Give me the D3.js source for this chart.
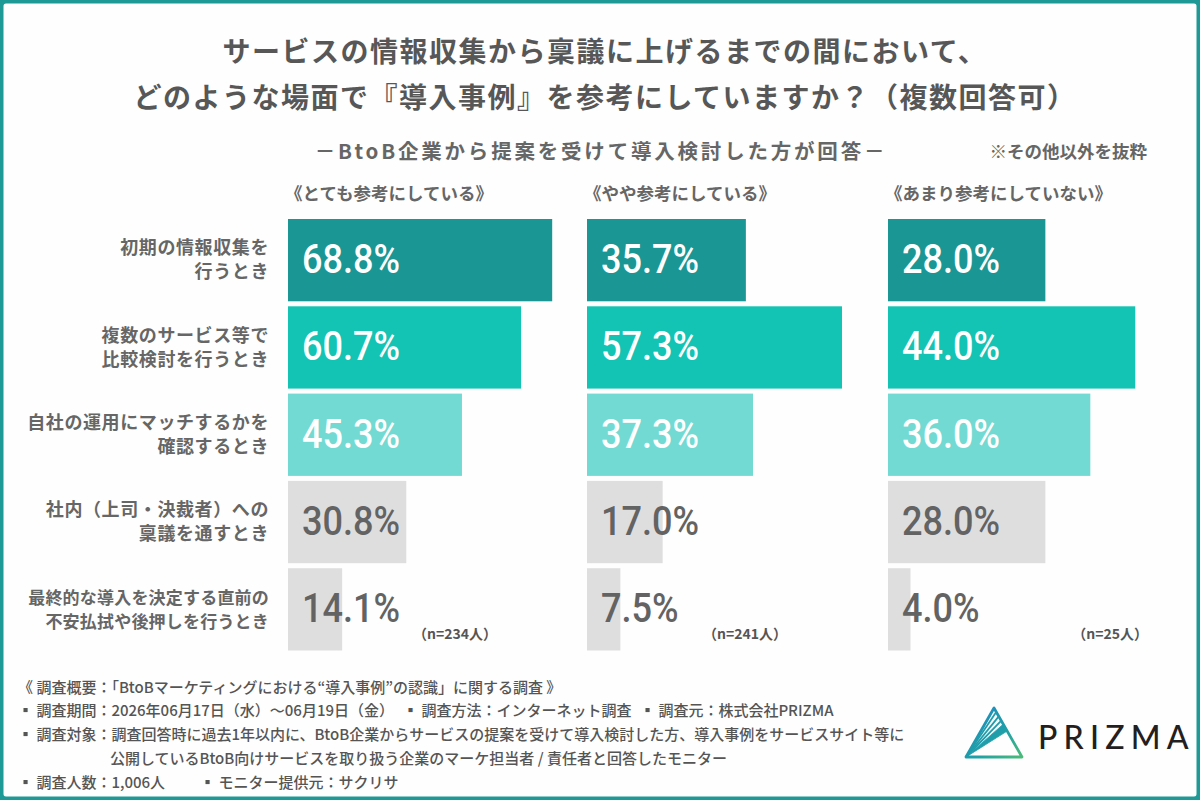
<!DOCTYPE html>
<html><head><meta charset="utf-8">
<script src="https://cdn.jsdelivr.net/npm/d3@7"></script>
<style>body{margin:0;background:#fff;} svg{display:block;}</style>
</head><body><svg id="c" width="1200" height="800"></svg>
<script>
// ---------- data ----------
const categories = [
  "初期の情報収集を\n行うとき",
  "複数のサービス等で\n比較検討を行うとき",
  "自社の運用にマッチするかを\n確認するとき",
  "社内（上司・決裁者）への\n稟議を通すとき",
  "最終的な導入を決定する直前の\n不安払拭や後押しを行うとき"
];
const groups = ["《とても参考にしている》", "《やや参考にしている》", "《あまり参考にしていない》"];
const valuesVery = [68.8, 60.7, 45.3, 30.8, 14.1];
const valuesSomewhat = [35.7, 57.3, 37.3, 17.0, 7.5];
const valuesNotMuch = [28.0, 44.0, 36.0, 28.0, 4.0];
const sampleSizes = ["（n=234人）", "（n=241人）", "（n=25人）"];
const titleLines = [
  "サービスの情報収集から稟議に上げるまでの間において、",
  "どのような場面で『導入事例』を参考にしていますか？（複数回答可）"
];
const subtitle = "－BtoB企業から提案を受けて導入検討した方が回答－";
const note = "※その他以外を抜粋";
const footLines = [
  ["《 調査概要：「BtoBマーケティングにおける“導入事例”の認識」に関する調査 》"],
  ["▪ 調査期間：2026年06月17日（水）～06月19日（金）", "▪ 調査方法：インターネット調査", "▪ 調査元：株式会社PRIZMA"],
  ["▪ 調査対象：調査回答時に過去1年以内に、BtoB企業からサービスの提案を受けて導入検討した方、導入事例をサービスサイト等に"],
  ["公開しているBtoB向けサービスを取り扱う企業のマーケ担当者 / 責任者と回答したモニター"],
  ["▪ 調査人数：1,006人", "▪ モニター提供元：サクリサ"]
];
const brand = "PRIZMA";

// ---------- layout / style ----------
const JP = "'Noto Sans CJK JP','Noto Sans',sans-serif";
const series = [valuesVery, valuesSomewhat, valuesNotMuch];
const colX = [288, 587, 888];
const colW = [384, 445, 562];
const nRight = [497, 787, 1148];
const barColors = ["#1a9694", "#13c3b4", "#72dad2", "#dfdedf", "#dfdedf"];
const valColors = ["#ffffff", "#ffffff", "#ffffff", "#636363", "#636363"];
const footX = [[18], [18, 403, 640], [18], [110], [18, 200]];
const footY = [687, 710, 734, 758, 782];

const svg = d3.select("#c");
svg.append("rect").attr("width", 1200).attr("height", 800).attr("fill", "#fefefe");

// frame
svg.append("rect").attr("x", 0).attr("y", 0).attr("width", 1200).attr("height", 800)
  .attr("rx", 6).attr("fill", "none").attr("stroke", "#1e9995").attr("stroke-width", 7);

// title
svg.selectAll("text.title").data(titleLines).join("text").attr("class", "title")
  .attr("x", 605).attr("y", (d, i) => 62 + i * 46)
  .attr("text-anchor", "middle").attr("font-family", JP).attr("font-weight", 700)
  .attr("font-size", 28).attr("letter-spacing", 1.5).attr("fill", "#575757").text(d => d);

svg.append("text").attr("x", 601).attr("y", 159).attr("text-anchor", "middle")
  .attr("font-family", JP).attr("font-weight", 700).attr("font-size", 20.5)
  .attr("letter-spacing", 2.8).attr("fill", "#666").text(subtitle);
svg.append("text").attr("x", 1147).attr("y", 158).attr("text-anchor", "end")
  .attr("font-family", JP).attr("font-weight", 700).attr("font-size", 17.5)
  .attr("fill", "#666").text(note);

// scales
const y = d3.scaleBand().domain(categories).range([219, 650.5]).paddingInner(0.0575).paddingOuter(0);

// category labels
const catG = svg.selectAll("g.cat").data(categories).join("g").attr("class", "cat");
catG.each(function (d, i) {
  const lines = d.split("\n");
  const cy = y(d) + y.bandwidth() / 2;
  const fs = i === 4 ? 17 : 18;
  d3.select(this).selectAll("text").data(lines).join("text")
    .attr("x", 269).attr("y", (l, j) => cy + (j === 0 ? -12 : 12) + 6.3)
    .attr("text-anchor", "end").attr("font-family", JP).attr("font-weight", 700)
    .attr("font-size", fs).attr("letter-spacing", i === 4 ? 0.2 : 0.6).attr("fill", "#666").text(l => l);
});

// columns
series.forEach((vals, c) => {
  const x = d3.scaleLinear().domain([0, 100]).range([colX[c], colX[c] + colW[c]]);
  const g = svg.append("g");
  g.append("text").attr("x", colX[c] - 3).attr("y", 200)
    .attr("font-family", JP).attr("font-weight", 700).attr("font-size", 17.5)
    .attr("fill", "#666").text(groups[c]);
  g.selectAll("rect").data(vals).join("rect")
    .attr("x", x(0)).attr("y", (d, i) => y(categories[i]))
    .attr("width", d => x(d) - x(0)).attr("height", y.bandwidth())
    .attr("fill", (d, i) => barColors[i]);
  g.selectAll("text.val").data(vals).join("text").attr("class", "val")
    .attr("transform", (d, i) => `translate(${x(0) + 14},${y(categories[i]) + y.bandwidth() / 2 + 13}) scale(0.88,1)`)
    .attr("font-family", "Roboto, 'DejaVu Sans', sans-serif").attr("font-weight", 500)
    .attr("font-size", 41).attr("fill", (d, i) => valColors[i])
    .text(d => d3.format(".1f")(d) + "%");
  g.append("text").attr("x", nRight[c]).attr("y", 639).attr("text-anchor", "end")
    .attr("font-family", JP).attr("font-weight", 700).attr("font-size", 14)
    .attr("fill", "#555").text(sampleSizes[c]);
});

// footnotes
footLines.forEach((segs, li) => {
  segs.forEach((s, si) => {
    svg.append("text").attr("x", footX[li][si]).attr("y", footY[li] + 5.5)
      .attr("font-family", JP).attr("font-weight", 500).attr("font-size", 15)
      .attr("fill", "#555").text(s);
  });
});

// logo
const defs = svg.append("defs");
const grad = defs.append("linearGradient").attr("id", "lg").attr("x1", "0%").attr("y1", "0%").attr("x2", "100%").attr("y2", "100%");
grad.append("stop").attr("offset", "0%").attr("stop-color", "#2386c4");
grad.append("stop").attr("offset", "60%").attr("stop-color", "#1ea1a6");
grad.append("stop").attr("offset", "100%").attr("stop-color", "#4cbb78");
const A = [994, 708], B = [966, 757], C = [1022, 757];
const logo = svg.append("g").attr("stroke", "url(#lg)").attr("fill", "none").attr("stroke-linejoin", "round");
logo.append("path").attr("d", `M${A}L${B}L${C}Z`).attr("stroke-width", 2.8);
const onRight = t => [A[0] + (C[0] - A[0]) * t, A[1] + (C[1] - A[1]) * t];
[0.08, 0.17, 0.26].forEach(t => {
  logo.append("line").attr("x1", B[0]).attr("y1", B[1]).attr("x2", onRight(t)[0]).attr("y2", onRight(t)[1]).attr("stroke-width", 1.8);
});
logo.append("path").attr("d", `M${B}L${onRight(0.33)}L${onRight(0.47)}Z`).attr("fill", "url(#lg)").attr("stroke-width", 0.8);
svg.append("text").attr("x", 1038).attr("y", 749).attr("font-family", "Lato, 'Open Sans', sans-serif")
  .attr("font-weight", 500).attr("font-size", 32).attr("letter-spacing", 6.2).attr("fill", "#231f20").text(brand);
</script>
</body></html>
